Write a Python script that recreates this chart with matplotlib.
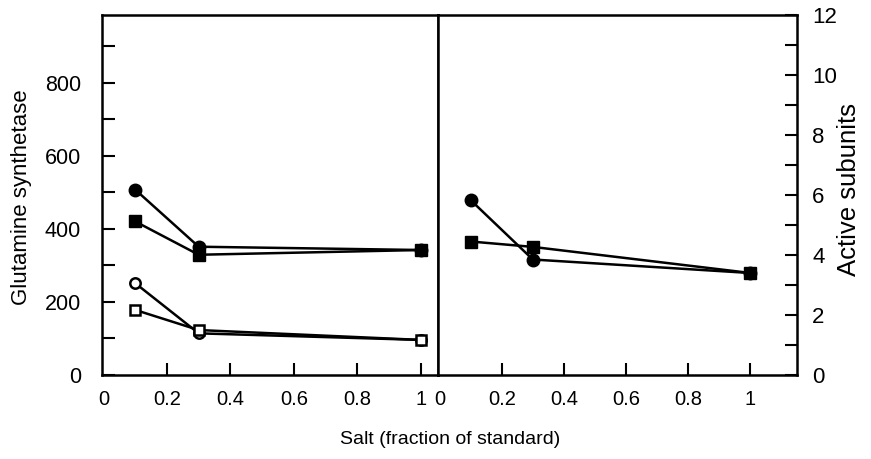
import matplotlib
matplotlib.use("Agg")
import matplotlib.pyplot as plt
from matplotlib.ticker import MultipleLocator

plt.rcParams['font.family'] = ['Liberation Sans', 'DejaVu Sans']

salt = [0.1, 0.3, 1.0]
# Left panel: Glutamine synthetase
gs_filled_circle = [507, 351, 342]
gs_filled_square = [420, 329, 342]
gs_open_circle = [251, 114, 96]
gs_open_square = [178, 123, 96]
# Right panel: Active subunits
as_filled_circle = [5.83, 3.85, 3.4]
as_filled_square = [4.45, 4.27, 3.4]

left_xticks = [0, 0.2, 0.4, 0.6, 0.8, 1]
left_xlabels = ['0', '0.2', '0.4', '0.6', '0.8', '1']
right_xticks = [0, 0.2, 0.4, 0.6, 0.8, 1]
right_xlabels = ['0', '0.2', '0.4', '0.6', '0.8', '1']
left_yticks = [0, 200, 400, 600, 800]
right_yticks = [0, 2, 4, 6, 8, 10, 12]

fig = plt.figure(figsize=(8.71, 4.59), dpi=100)
W, H = 871, 459
x0, xm, x1 = 102, 438, 797
yb, yt = 375, 15
axL = fig.add_axes([x0 / W, 1 - yb / H, (xm - x0) / W, (yb - yt) / H])
axR = fig.add_axes([xm / W, 1 - yb / H, (x1 - xm) / W, (yb - yt) / H])

lw = 1.8
kw = dict(color='black', lw=lw)
axL.plot(salt, gs_filled_circle, marker='o', ms=9, mfc='black', mec='black', **kw)
axL.plot(salt, gs_filled_square, marker='s', ms=8, mfc='black', mec='black', **kw)
axL.plot(salt, gs_open_circle, marker='o', ms=7.5, mfc='white', mec='black', mew=1.8, **kw)
axL.plot(salt, gs_open_square, marker='s', ms=7.5, mfc='white', mec='black', mew=1.8, **kw)

axR.plot(salt, as_filled_circle, marker='o', ms=9, mfc='black', mec='black', **kw)
axR.plot(salt, as_filled_square, marker='s', ms=8, mfc='black', mec='black', **kw)

axL.set_xlim(-0.005, 1.055)
axL.set_ylim(0, 985)
axR.set_xlim(-0.005, 1.15)
axR.set_ylim(0, 12)

for ax in (axL, axR):
    for s in ax.spines.values():
        s.set_linewidth(1.8)

xfont = dict(size=14.5)

axL.set_xticks(left_xticks)
axL.set_xticklabels(left_xlabels, fontdict=xfont)
axL.set_yticks(left_yticks)
axL.yaxis.set_minor_locator(MultipleLocator(100))
axL.tick_params(axis='both', which='both', direction='in', length=9, width=1.5,
                top=False, right=False)
axL.tick_params(axis='y', which='major', pad=15, labelsize=15.5)
axL.tick_params(axis='x', which='major', pad=11)

axR.set_xticks(right_xticks)
axR.set_xticklabels(right_xlabels, fontdict=xfont)
axR.yaxis.tick_right()
axR.set_yticks(right_yticks)
axR.yaxis.set_minor_locator(MultipleLocator(1))
axR.tick_params(axis='both', which='both', direction='in', length=9, width=1.5,
                top=False, left=False)
axR.tick_params(axis='y', which='major', pad=11, labelsize=16)
axR.tick_params(axis='x', which='major', pad=11)
axR.xaxis.get_major_ticks()[0].tick1line.set_visible(False)
axL.xaxis.get_major_ticks()[0].tick1line.set_visible(False)

fig.text(22 / W, 1 - 197 / H, 'Glutamine synthetase', rotation=90, ha='center', va='center', fontsize=16)
fig.text(849 / W, 1 - 189 / H, 'Active subunits', rotation=90, ha='center', va='center', fontsize=18.5)
fig.text(450 / W, 1 - 440 / H, 'Salt (fraction of standard)', ha='center', va='center', fontsize=14)

fig.savefig('out.png', dpi=100)
